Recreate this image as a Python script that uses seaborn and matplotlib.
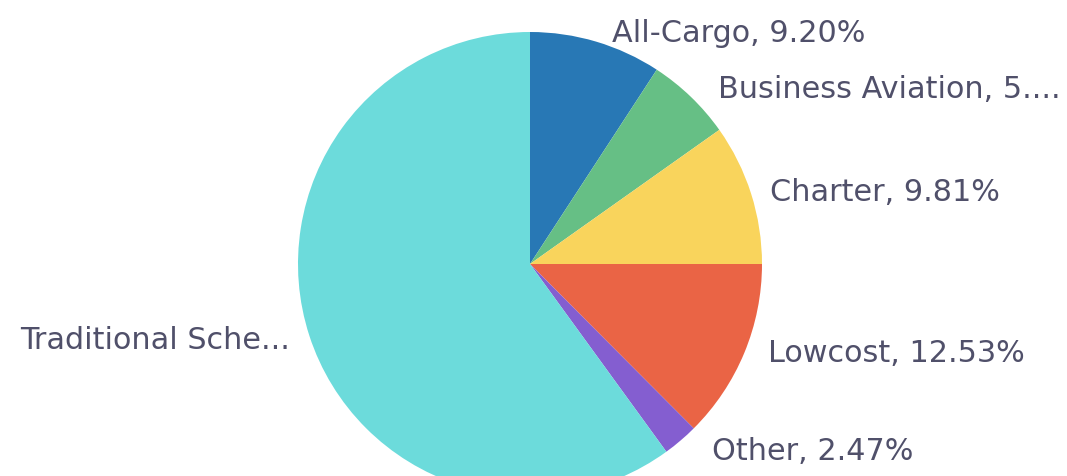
"""
Pie chart of flight share by segment.
"""
import matplotlib.pyplot as plt
import seaborn as sns

# data
segments = ["All-Cargo", "Business Aviation", "Charter", "Lowcost", "Other",
            "Traditional Scheduled"]
shares = [9.20, 5.99, 9.81, 12.53, 2.47, 60.00]
# labels as shown (long ones are cut off in the original)
display_labels = ["All-Cargo, 9.20%", "Business Aviation, 5....", "Charter, 9.81%",
                  "Lowcost, 12.53%", "Other, 2.47%", "Traditional Sche..."]
colors = ["#2878b5", "#66bf85", "#f9d45c", "#ea6445", "#845ed0", "#6cdbdb"]

if __name__ == "__main__":
    sns.set_theme(style="white")
    plt.rcParams["font.family"] = ["DejaVu Sans"]

    W, H = 1067, 477
    fig = plt.figure(figsize=(W / 100, H / 100), dpi=100)
    ax = fig.add_axes([0, 0, 1, 1])

    wedges, texts = ax.pie(
        shares,
        labels=display_labels,
        colors=sns.color_palette(colors),
        startangle=90,
        counterclock=False,
        labeldistance=1.1,
        wedgeprops=dict(linewidth=0),
        textprops=dict(fontsize=21.8, color="#50506a"),
    )

    # place the pie: centre at (530, 265) px, radius 232 px, bottom cut off
    r_px, cx, cy = 232, 530, 265
    ax.set_aspect("auto")
    ax.set_xlim(-cx / r_px, (W - cx) / r_px)
    ax.set_ylim(-(H - cy) / r_px, cy / r_px)
    ax.axis("off")

    # small nudges of the labels (pixels, y down)
    nudges = [(9, 13), (11, 8), (-3, 5), (2, -9), (16, -8), (3, -3)]
    for t, (dx, dy) in zip(texts, nudges):
        x, y = t.get_position()
        t.set_position((x + dx / r_px, y - dy / r_px))

    plt.savefig("out.png", dpi=100)
